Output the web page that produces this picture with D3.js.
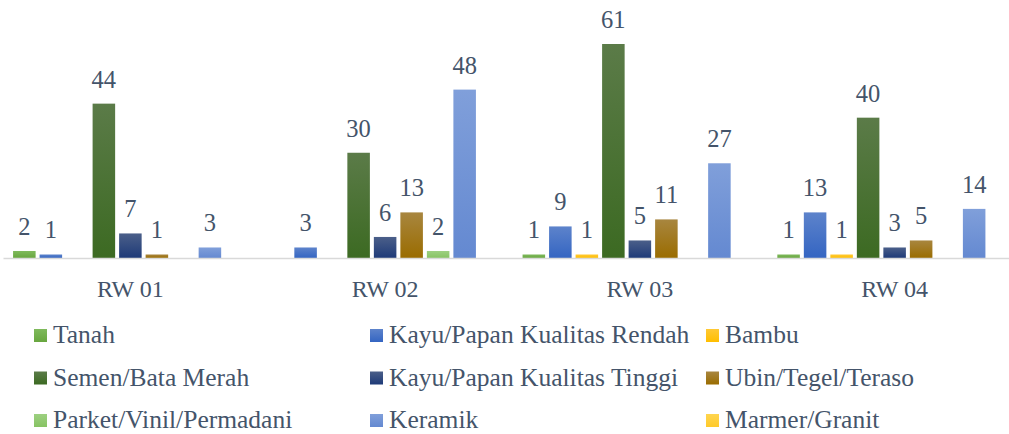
<!DOCTYPE html>
<html>
<head>
<meta charset="utf-8">
<script src="https://cdn.jsdelivr.net/npm/d3@7"></script>
<style>
  html, body { margin: 0; padding: 0; background: #fff; overflow: hidden; }
  svg { display: block; font-family: 'Liberation Serif', 'DejaVu Serif', serif; }
</style>
</head>
<body>
<div id="chart"></div>
<script>
// categories (x axis)
const categories = ['RW 01', 'RW 02', 'RW 03', 'RW 04'];

// series names in legend / drawing order
const seriesNames = [
  'Tanah',
  'Kayu/Papan Kualitas Rendah',
  'Bambu',
  'Semen/Bata Merah',
  'Kayu/Papan Kualitas Tinggi',
  'Ubin/Tegel/Teraso',
  'Parket/Vinil/Permadani',
  'Keramik',
  'Marmer/Granit',
];

// values per series, one per RW
const tanah = [2, 0, 1, 1];
const kayuRendah = [1, 3, 9, 13];
const bambu = [0, 0, 1, 1];
const semen = [44, 30, 61, 40];
const kayuTinggi = [7, 6, 5, 3];
const ubin = [1, 13, 11, 5];
const parket = [0, 2, 0, 0];
const keramik = [3, 48, 27, 14];
const marmer = [0, 0, 0, 0];

const seriesValues = [tanah, kayuRendah, bambu, semen, kayuTinggi, ubin, parket, keramik, marmer];

// gradient colours, top -> bottom
const seriesColors = [
  ['#7fba5c', '#68a63f'],
  ['#5d83cb', '#3465c2'],
  ['#ffc935', '#ffbe00'],
  ['#5b7b48', '#3c6a22'],
  ['#4b5f89', '#1e3a78'],
  ['#a8863f', '#9a6c00'],
  ['#9dd081', '#87c363'],
  ['#809fda', '#6489d1'],
  ['#ffd54f', '#ffca2a'],
];

const textColor = '#44546A';
const width = 1009;
const height = 434;

const svg = d3.select('#chart').append('svg').attr('width', width).attr('height', height);

const defs = svg.append('defs');
seriesColors.forEach((c, i) => {
  const g = defs.append('linearGradient').attr('id', `grad-${i}`).attr('x1', 0).attr('y1', 0).attr('x2', 0).attr('y2', 1);
  g.append('stop').attr('offset', '0%').attr('stop-color', c[0]);
  g.append('stop').attr('offset', '100%').attr('stop-color', c[1]);
});

const x0 = d3.scaleBand().domain(categories).range([3, 1022]);
const x1 = d3.scaleBand().domain(d3.range(seriesNames.length)).range([0, x0.bandwidth()]).paddingInner(0.15).paddingOuter(0.38);
const y = d3.scaleLinear().domain([0, 61]).range([258, 44]);

// bars
const groups = svg
  .selectAll('.group')
  .data(categories)
  .enter()
  .append('g')
  .attr('class', 'group')
  .attr('transform', (d) => `translate(${x0(d)},0)`);

groups.each(function (cat, ci) {
  const g = d3.select(this);
  const rows = seriesValues.map((vals, si) => ({ si, v: vals[ci] })).filter((d) => d.v > 0);
  g.selectAll('rect')
    .data(rows)
    .enter()
    .append('rect')
    .attr('x', (d) => x1(d.si))
    .attr('y', (d) => y(d.v))
    .attr('width', x1.bandwidth())
    .attr('height', (d) => y(0) - y(d.v))
    .attr('fill', (d) => `url(#grad-${d.si})`);
  g.selectAll('text.val')
    .data(rows)
    .enter()
    .append('text')
    .attr('class', 'val')
    .attr('x', (d) => x1(d.si) + x1.bandwidth() / 2)
    .attr('y', (d) => y(d.v) - 16)
    .attr('text-anchor', 'middle')
    .attr('fill', textColor)
    .style('font-size', '24.5px')
    .text((d) => d.v);
});

// x axis
const gx = svg.append('g').attr('transform', `translate(0,${y(0)})`);
gx.call(d3.axisBottom(x0).tickSize(0).tickSizeOuter(0));
gx.select('.domain').attr('stroke', '#D9D9D9').attr('stroke-width', 1.5);
gx.selectAll('.tick text')
  .attr('y', 39)
  .attr('dy', 0)
  .attr('fill', textColor)
  .style('font-family', "'Liberation Serif', serif")
  .style('font-size', '24px');

// legend, 3 columns
const legendCols = [34, 370, 706];
const legendRows = [343, 385.5, 428];
const legend = svg
  .selectAll('.legend')
  .data(seriesNames)
  .enter()
  .append('g')
  .attr('class', 'legend')
  .attr('transform', (d, i) => `translate(${legendCols[i % 3]},${legendRows[Math.floor(i / 3)]})`);

legend.append('rect').attr('x', 0).attr('y', -14).attr('width', 13).attr('height', 13).attr('fill', (d, i) => `url(#grad-${i})`);
legend
  .append('text')
  .attr('x', 19)
  .attr('y', 0)
  .attr('fill', textColor)
  .style('font-size', '25.5px')
  .text((d) => d);
</script>
</body>
</html>
